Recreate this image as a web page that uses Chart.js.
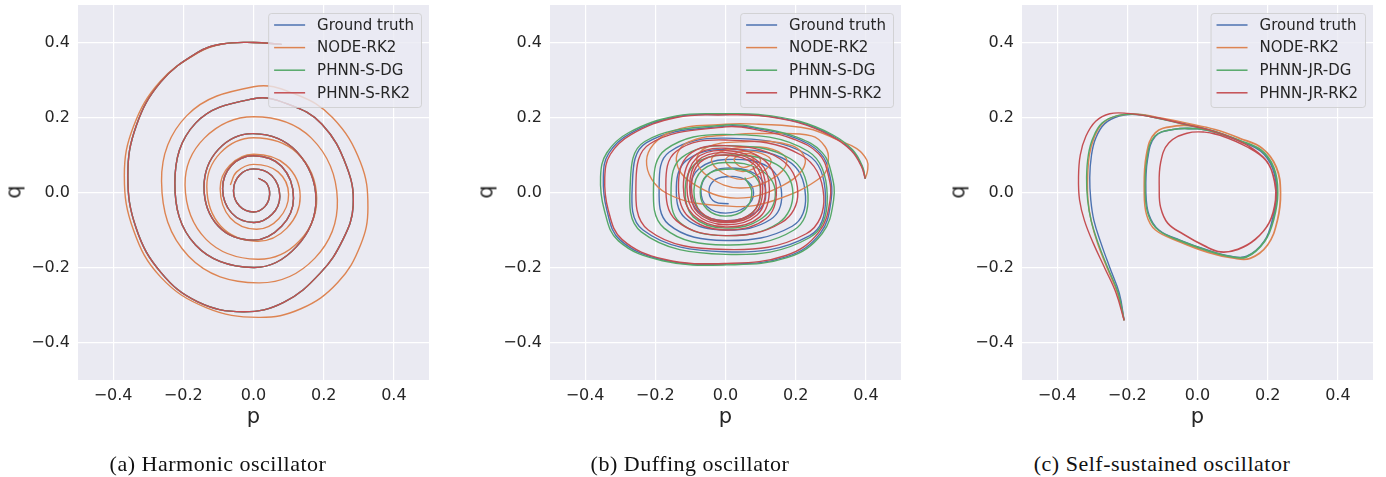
<!DOCTYPE html>
<html>
<head>
<meta charset="utf-8">
<script src="https://cdn.jsdelivr.net/npm/chart.js@4.4.1/dist/chart.umd.min.js"></script>
<style>
  html, body { margin: 0; padding: 0; background: #ffffff; }
  #page { position: relative; width: 1386px; height: 477px; overflow: hidden; }
  canvas { position: absolute; top: 0; }
  .lbl { position: absolute; font-family: "DejaVu Sans", sans-serif; font-size: 21px; line-height: 21px; color: #262626; white-space: nowrap; }
  .cap { position: absolute; font-family: "Liberation Serif", serif; font-size: 22px; letter-spacing: 0.5px; color: #111; white-space: nowrap; transform: translate(-50%, -50%); }
</style>
</head>
<body>
<div id="page"></div>
<script>
// valeurs, en coordonnées (p, q)
const tickValues = [-0.4, -0.2, 0.0, 0.2, 0.4];
const seriesColors = ['#4C72B0', '#DD8452', '#55A868', '#C44E52'];
const labelsS = ['Ground truth', 'NODE-RK2', 'PHNN-S-DG', 'PHNN-S-RK2'];
const labelsJR = ['Ground truth', 'NODE-RK2', 'PHNN-JR-DG', 'PHNN-JR-RK2'];
const captions = ['(a) Harmonic oscillator', '(b) Duffing oscillator', '(c) Self-sustained oscillator'];

// (a) oscillateur harmonique
const harmTruth = [
  [0.08,0.395],[0.0,0.4],[-0.09,0.396],[-0.16,0.373],[-0.264,0.295],[-0.334,0.178],[-0.358,0.045],[-0.334,-0.096],
  [-0.264,-0.213],[-0.16,-0.291],[-0.03,-0.318],[0.086,-0.293],[0.19,-0.215],[0.255,-0.125],[0.284,-0.035],[0.265,0.07],
  [0.195,0.182],[0.1,0.235],[0.0,0.25],[-0.165,0.185],[-0.224,0.025],[-0.165,-0.14],[0.0,-0.2],[0.122,-0.145],[0.178,-0.02],
  [0.122,0.11],[0.0,0.157],[-0.1,0.115],[-0.141,0.015],[-0.1,-0.09],[0.0,-0.127],[0.08,-0.09],[0.114,-0.015],
  [0.08,0.07],[0.0,0.098],[-0.063,0.072],[-0.088,0.01],[-0.062,-0.055],[0.0,-0.08],[0.053,-0.058],[0.075,-0.01],
  [0.052,0.045],[0.0,0.063],[-0.04,0.046],[-0.057,0.005],[-0.04,-0.036],[0.0,-0.052],[0.033,-0.037],[0.046,-0.005],
  [0.037,0.025],[0.014,0.038]
];
const harmNode = [
  [0.08,0.395],[0.0,0.4],[-0.09,0.396],[-0.155,0.374],[-0.266,0.296],[-0.342,0.176],[-0.368,0.045],[-0.342,-0.1],
  [-0.265,-0.225],[-0.135,-0.307],[0.014,-0.333],[0.135,-0.31],[0.24,-0.24],[0.305,-0.14],[0.326,-0.04],[0.305,0.08],
  [0.225,0.2],[0.12,0.262],[0.0,0.282],[-0.19,0.205],[-0.262,0.03],[-0.185,-0.17],[0.014,-0.241],[0.175,-0.175],[0.239,-0.02],
  [0.165,0.145],[0.0,0.202],[-0.14,0.145],[-0.195,0.02],[-0.135,-0.125],[0.012,-0.178],[0.13,-0.13],[0.18,-0.015],
  [0.125,0.105],[0.0,0.146],[-0.095,0.105],[-0.133,0.015],[-0.093,-0.09],[0.01,-0.13],[0.095,-0.095],[0.133,-0.01],
  [0.093,0.073],[0.0,0.102],[-0.068,0.072],[-0.095,0.01],[-0.066,-0.068],[0.008,-0.098],[0.072,-0.07],[0.1,-0.005],
  [0.07,0.055],[0.0,0.075],[-0.048,0.055],[-0.066,0.02]
];
const harmDG = harmTruth;
const harmRK2 = harmTruth;

// (b) oscillateur de Duffing
const duffTruth = [
  [0.398,0.037],[0.389,0.069],[0.36,0.113],[0.303,0.152],[0.208,0.188],[0.094,0.206],[0.0,0.208],[-0.14,0.202],
  [-0.272,0.157],[-0.333,0.104],[-0.348,0.042],[-0.338,-0.047],[-0.3,-0.127],[-0.177,-0.18],[0.003,-0.191],[0.175,-0.171],
  [0.27,-0.109],[0.301,-0.02],[0.296,0.05],[0.27,0.105],[0.2,0.145],[0.105,0.168],[0.0,0.177],
  [-0.225,0.133],[-0.265,0.03],[-0.235,-0.1],[0.0,-0.158],[0.24,-0.115],[0.285,-0.012],[0.235,0.1],
  [0.0,0.145],[-0.16,0.108],[-0.189,0.02],[-0.162,-0.085],[0.0,-0.128],[0.19,-0.09],[0.228,-0.01],[0.18,0.083],
  [0.0,0.115],[-0.112,0.085],[-0.14,0.015],[-0.115,-0.068],[0.0,-0.1],[0.128,-0.072],[0.16,-0.005],[0.122,0.068],
  [0.0,0.088],[-0.075,0.064],[-0.1,0.01],[-0.078,-0.05],[0.0,-0.075],[0.088,-0.052],[0.115,0.0],[0.084,0.05],
  [0.0,0.065],[-0.051,0.047],[-0.07,0.005],[-0.052,-0.038],[0.0,-0.055],[0.058,-0.038],[0.08,0.0],[0.055,0.035],
  [0.0,0.042],[-0.035,0.03],[-0.047,0.0],[-0.03,-0.025],[0.009,-0.03]
];
const duffNode = [
  [0.398,0.037],[0.405,0.06],[0.403,0.086],[0.374,0.117],[0.322,0.139],[0.237,0.17],[0.094,0.182],[0.0,0.182],
  [-0.16,0.16],[-0.225,0.085],[-0.168,-0.002],[0.02,-0.037],[0.142,-0.02],[0.274,0.042],[0.293,0.086],[0.284,0.122],
  [0.245,0.151],[0.12,0.157],[0.03,0.155],
  [-0.105,0.135],[-0.14,0.085],[-0.095,0.025],[0.03,-0.015],[0.165,0.02],[0.227,0.078],[0.19,0.125],[0.04,0.135],
  [-0.055,0.12],[-0.082,0.085],[-0.045,0.04],[0.04,0.012],[0.13,0.035],[0.175,0.083],[0.135,0.115],[0.05,0.12],
  [-0.015,0.108],[-0.04,0.085],[-0.008,0.052],[0.045,0.035],[0.1,0.052],[0.13,0.084],[0.1,0.105],[0.05,0.11],
  [0.015,0.1],[0.0,0.085],[0.02,0.064],[0.05,0.056],[0.085,0.066],[0.1,0.085],[0.085,0.1],[0.055,0.104],
  [0.03,0.095],[0.025,0.085],[0.04,0.07],[0.06,0.068],[0.08,0.08],[0.075,0.095],[0.06,0.098]
];
const duffDG = [
  [0.398,0.037],[0.39,0.07],[0.362,0.114],[0.305,0.154],[0.21,0.19],[0.095,0.208],[0.0,0.21],[-0.14,0.204],
  [-0.275,0.16],[-0.338,0.106],[-0.356,0.042],[-0.345,-0.048],[-0.305,-0.129],[-0.18,-0.182],[0.003,-0.193],[0.178,-0.173],
  [0.275,-0.11],[0.308,-0.02],[0.302,0.05],[0.275,0.107],[0.205,0.147],[0.107,0.17],[0.0,0.18],
  [-0.23,0.136],[-0.271,0.03],[-0.24,-0.105],[0.0,-0.165],[0.24,-0.12],[0.29,-0.01],[0.235,0.11],
  [0.0,0.155],[-0.17,0.115],[-0.205,0.02],[-0.175,-0.095],[0.0,-0.14],[0.195,-0.1],[0.235,-0.005],[0.185,0.09],
  [0.0,0.125],[-0.125,0.093],[-0.155,0.012],[-0.13,-0.08],[0.0,-0.115],[0.15,-0.082],[0.192,0.0],[0.145,0.075],
  [0.0,0.1],[-0.088,0.075],[-0.115,0.008],[-0.092,-0.065],[0.0,-0.095],[0.105,-0.068],[0.142,0.0],[0.1,0.06],
  [0.0,0.08],[-0.066,0.06],[-0.09,0.005],[-0.068,-0.055],[0.0,-0.08],[0.075,-0.055],[0.1,0.0],[0.075,0.05],
  [0.0,0.062],[-0.052,0.047],[-0.072,0.0],[-0.052,-0.045],[0.0,-0.063],[0.055,-0.045],[0.075,0.0],[0.055,0.04]
];
const duffRK2 = [
  [0.398,0.037],[0.388,0.068],[0.358,0.112],[0.3,0.151],[0.205,0.187],[0.093,0.205],[0.0,0.207],[-0.14,0.2],
  [-0.268,0.155],[-0.328,0.102],[-0.344,0.04],[-0.334,-0.047],[-0.295,-0.125],[-0.175,-0.178],[0.003,-0.189],[0.172,-0.168],
  [0.265,-0.107],[0.298,-0.02],[0.292,0.05],[0.265,0.104],[0.195,0.142],[0.1,0.165],[0.0,0.175],
  [-0.215,0.13],[-0.255,0.03],[-0.22,-0.1],[0.0,-0.152],[0.23,-0.11],[0.28,-0.01],[0.215,0.1],
  [0.0,0.14],[-0.14,0.11],[-0.17,0.02],[-0.14,-0.075],[0.0,-0.115],[0.16,-0.08],[0.206,0.0],[0.155,0.09],
  [0.0,0.125],[-0.105,0.1],[-0.134,0.015],[-0.105,-0.065],[0.0,-0.1],[0.115,-0.07],[0.145,0.005],[0.112,0.085],
  [0.0,0.118],[-0.092,0.095],[-0.12,0.015],[-0.092,-0.06],[0.0,-0.092],[0.098,-0.065],[0.125,0.01],[0.097,0.08],
  [0.0,0.112],[-0.084,0.09],[-0.11,0.015],[-0.084,-0.057],[0.0,-0.086],[0.09,-0.06],[0.114,0.01],[0.09,0.077],
  [0.0,0.106],[-0.078,0.085],[-0.102,0.015],[-0.078,-0.054],[0.0,-0.08],[0.083,-0.057],[0.106,0.01],[0.083,0.074],
  [0.0,0.1],[-0.073,0.08],[-0.097,0.015],[-0.073,-0.05],[0.0,-0.076],[0.078,-0.053],[0.1,0.012],[0.078,0.07]
];

// (c) oscillateur auto-entretenu
const selfTruth = [
  [-0.209,-0.341],[-0.223,-0.268],[-0.25,-0.2],[-0.275,-0.135],[-0.295,-0.075],[-0.304,-0.02],[-0.307,0.04],[-0.302,0.1],
  [-0.29,0.145],[-0.265,0.183],[-0.223,0.204],[-0.17,0.208],[-0.1,0.196],[-0.03,0.182],[0.05,0.162],
  [0.12,0.138],[0.18,0.112],[0.215,0.065],[0.226,0.0],[0.215,-0.07],[0.19,-0.13],[0.14,-0.171],[0.09,-0.17],
  [0.03,-0.155],[-0.05,-0.128],[-0.11,-0.1],[-0.138,-0.06],[-0.147,0.0],[-0.142,0.09],[-0.12,0.15],[-0.07,0.168],
  [0.0,0.17],[0.06,0.158],[0.12,0.137],[0.18,0.11],[0.214,0.064],[0.225,0.0],[0.214,-0.07],[0.19,-0.13],
  [0.14,-0.17],[0.09,-0.169],[0.03,-0.154],[-0.05,-0.127],[-0.11,-0.1],[-0.138,-0.06],[-0.147,0.0],[-0.142,0.09],
  [-0.12,0.15],[-0.07,0.168],[0.0,0.17]
];
const selfNode = [
  [-0.209,-0.341],[-0.228,-0.268],[-0.258,-0.2],[-0.285,-0.135],[-0.303,-0.075],[-0.312,-0.02],[-0.313,0.04],[-0.308,0.1],
  [-0.295,0.145],[-0.27,0.185],[-0.228,0.205],[-0.17,0.209],[-0.1,0.198],[-0.03,0.185],[0.05,0.168],
  [0.12,0.145],[0.185,0.118],[0.225,0.068],[0.237,0.0],[0.228,-0.075],[0.2,-0.14],[0.15,-0.176],[0.1,-0.175],
  [0.03,-0.16],[-0.05,-0.132],[-0.12,-0.1],[-0.145,-0.06],[-0.152,0.0],[-0.146,0.1],[-0.12,0.16],[-0.06,0.178],
  [0.0,0.178],[0.06,0.165],[0.12,0.144],[0.185,0.117],[0.224,0.067],[0.236,0.0],[0.227,-0.075],[0.2,-0.139],
  [0.15,-0.175],[0.1,-0.174],[0.03,-0.159],[-0.05,-0.131],[-0.12,-0.1],[-0.145,-0.06],[-0.151,0.0],[-0.145,0.1],
  [-0.12,0.159],[-0.06,0.177],[0.0,0.177]
];
const selfDG = [
  [-0.209,-0.341],[-0.226,-0.268],[-0.256,-0.2],[-0.283,-0.135],[-0.303,-0.075],[-0.313,-0.02],[-0.316,0.04],[-0.311,0.1],
  [-0.298,0.145],[-0.272,0.185],[-0.228,0.205],[-0.17,0.208],[-0.1,0.195],[-0.03,0.18],[0.05,0.163],
  [0.12,0.139],[0.182,0.113],[0.218,0.066],[0.229,0.0],[0.218,-0.07],[0.192,-0.13],[0.14,-0.172],[0.09,-0.171],
  [0.03,-0.156],[-0.05,-0.129],[-0.112,-0.1],[-0.14,-0.06],[-0.149,0.0],[-0.144,0.09],[-0.122,0.15],[-0.07,0.168],
  [0.0,0.17],[0.06,0.158],[0.12,0.138],[0.181,0.112],[0.217,0.065],[0.228,0.0],[0.217,-0.07],[0.191,-0.13],
  [0.14,-0.171],[0.09,-0.17],[0.03,-0.155],[-0.05,-0.128],[-0.112,-0.1],[-0.14,-0.06],[-0.149,0.0],[-0.144,0.09],
  [-0.122,0.15],[-0.07,0.168],[0.0,0.17]
];
const selfRK2 = [
  [-0.209,-0.341],[-0.232,-0.268],[-0.265,-0.2],[-0.297,-0.135],[-0.322,-0.075],[-0.336,-0.02],[-0.339,0.04],[-0.334,0.1],
  [-0.318,0.15],[-0.29,0.19],[-0.25,0.21],[-0.2,0.211],[-0.12,0.2],[-0.04,0.183],[0.04,0.165],[0.1,0.145],
  [0.16,0.115],[0.2,0.08],[0.22,0.03],[0.223,-0.02],[0.205,-0.08],[0.165,-0.125],[0.115,-0.152],[0.066,-0.159],
  [0.02,-0.143],[-0.04,-0.112],[-0.085,-0.082],[-0.105,-0.04],[-0.109,0.006],[-0.105,0.08],[-0.082,0.132],[-0.03,0.158],
  [0.02,0.161],[0.066,0.152],[0.14,0.122],[0.195,0.085],[0.219,0.03],[0.222,-0.02],[0.204,-0.08],[0.164,-0.125],
  [0.115,-0.151],[0.066,-0.158],[0.02,-0.142],[-0.04,-0.111],[-0.085,-0.081],[-0.105,-0.04],[-0.109,0.006],[-0.105,0.08],
  [-0.082,0.132],[-0.03,0.158],[0.02,0.161],[0.066,0.152]
];

const panels = [
  { plotLeft: 78, series: [harmTruth, harmNode, harmDG, harmRK2], labels: labelsS, caption: captions[0] },
  { plotLeft: 550, series: [duffTruth, duffNode, duffDG, duffRK2], labels: labelsS, caption: captions[1] },
  { plotLeft: 1022, series: [selfTruth, selfNode, selfDG, selfRK2], labels: labelsJR, caption: captions[2] }
];

const PLOT_W = 351;
const AXIS_W = 78;
const fmt = v => v.toFixed(1).replace('-', '\u2212');

// fond gris + légende façon seaborn
const phasePlugin = {
  id: 'phase',
  beforeDraw(chart) {
    const a = chart.chartArea;
    const ctx = chart.ctx;
    ctx.save();
    ctx.fillStyle = '#EAEAF2';
    ctx.fillRect(a.left, a.top, a.right - a.left, a.bottom - a.top);
    ctx.restore();
  },
  afterDraw(chart, args, opts) {
    const a = chart.chartArea;
    const ctx = chart.ctx;
    ctx.save();
    ctx.font = '15px "DejaVu Sans"';
    const tw = Math.max(...opts.labels.map(l => ctx.measureText(l).width));
    const w = 49 + tw + 7;
    const h = 94;
    const x = a.right - 8 - w;
    const y = a.top + 8;
    ctx.beginPath();
    ctx.roundRect(x + 0.5, y + 0.5, w, h, 3);
    ctx.fillStyle = 'rgba(234,234,242,0.8)';
    ctx.fill();
    ctx.strokeStyle = 'rgba(204,204,204,0.8)';
    ctx.lineWidth = 1;
    ctx.stroke();
    opts.labels.forEach((l, i) => {
      const cy = y + 12 + i * 22.6;
      ctx.beginPath();
      ctx.moveTo(x + 6, cy);
      ctx.lineTo(x + 37, cy);
      ctx.strokeStyle = seriesColors[i];
      ctx.lineWidth = 1.5;
      ctx.stroke();
      ctx.fillStyle = '#262626';
      ctx.textBaseline = 'middle';
      ctx.fillText(l, x + 49, cy + 1);
    });
    ctx.restore();
  }
};

function axisOpts(isX) {
  return {
    type: 'linear',
    min: -0.5,
    max: 0.5,
    afterBuildTicks: s => { s.ticks = tickValues.map(v => ({ value: v })); },
    afterFit: s => {
      // pas de marge auto pour les étiquettes du bord
      s.paddingTop = 0; s.paddingBottom = 0; s.paddingLeft = 0; s.paddingRight = 0;
      if (isX) s.height = 30; else s.width = AXIS_W;
    },
    grid: { color: '#ffffff', lineWidth: 1.2, drawTicks: false, tickLength: 0 },
    border: { display: false },
    ticks: {
      padding: isX ? 6 : 8,
      color: '#262626',
      autoSkip: false,
      maxRotation: 0,
      font: { family: 'DejaVu Sans', size: 16 },
      callback: fmt
    }
  };
}

const page = document.getElementById('page');

panels.forEach((panel, k) => {
  const canvas = document.createElement('canvas');
  canvas.width = AXIS_W + PLOT_W + 4;
  canvas.height = 410;
  canvas.style.left = (panel.plotLeft - AXIS_W) + 'px';
  page.appendChild(canvas);

  const datasets = panel.series.map((pts, i) => ({
    label: panel.labels[i],
    data: pts.map(([p, q]) => ({ x: p, y: q })),
    showLine: true,
    borderColor: seriesColors[i],
    backgroundColor: seriesColors[i],
    borderWidth: 1.4,
    tension: 0.4,
    pointRadius: 0,
    order: 4 - i
  }));

  new Chart(canvas.getContext('2d'), {
    type: 'scatter',
    data: { datasets },
    options: {
      responsive: false,
      animation: false,
      devicePixelRatio: 1,
      layout: { padding: { top: 5, right: 4, left: 0, bottom: 0 } },
      plugins: {
        legend: { display: false },
        tooltip: { enabled: false },
        phase: { labels: panel.labels }
      },
      scales: { x: axisOpts(true), y: axisOpts(false) }
    },
    plugins: [phasePlugin]
  });

  const center = panel.plotLeft + PLOT_W / 2;

  const q = document.createElement('div');
  q.className = 'lbl';
  q.textContent = 'q';
  q.style.left = (panel.plotLeft - 64) + 'px';
  q.style.top = '192px';
  q.style.transform = 'translate(-50%, -50%) rotate(-90deg)';
  page.appendChild(q);

  const p = document.createElement('div');
  p.className = 'lbl';
  p.textContent = 'p';
  p.style.left = center + 'px';
  p.style.top = '406px';
  p.style.transform = 'translateX(-50%)';
  page.appendChild(p);

  const cap = document.createElement('div');
  cap.className = 'cap';
  cap.textContent = panel.caption;
  cap.style.left = (center - 35.5) + 'px';
  cap.style.top = '464px';
  page.appendChild(cap);
});
</script>
</body>
</html>
